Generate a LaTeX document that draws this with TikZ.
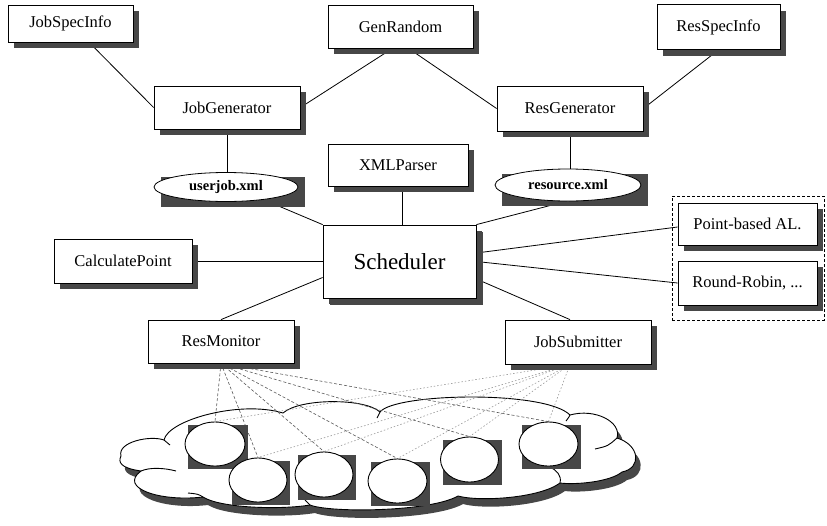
\documentclass[tikz,border=0pt]{standalone}
\usepackage{fontspec}
\setmainfont{Liberation Serif}
\usetikzlibrary{shapes.geometric,shadows,calc,fit}
\pgfdeclarelayer{cloudlayer}
\pgfdeclarelayer{connlayer}
\pgfdeclarelayer{background}
\pgfsetlayers{cloudlayer,connlayer,background,main}
\definecolor{shd}{gray}{0.28}
\tikzset{
  box/.style={draw, fill=white, line width=0.8pt, inner sep=0pt,
    font=\fontsize{16.5}{18}\selectfont,
    drop shadow={shadow xshift=6pt, shadow yshift=-6pt, fill=shd, opacity=1}},
  bigbox/.style={box, font=\fontsize{23}{26}\selectfont,
    drop shadow={shadow xshift=7pt, shadow yshift=-7pt, fill=shd, opacity=1}},
  xmlfile/.style={ellipse, draw, fill=white, line width=0.8pt, inner sep=0pt,
    font=\bfseries\fontsize{14.5}{16}\selectfont},
  res/.style={ellipse, draw, fill=white, line width=0.9pt, inner sep=0pt},
  conn/.style={line width=0.8pt},
  mondash/.style={black!65, line width=0.6pt, dash pattern=on 3pt off 2pt},
  subdash/.style={black!40, line width=0.6pt, dash pattern=on 1.5pt off 2pt},
  grpbox/.style={draw, line width=0.7pt, dash pattern=on 3pt off 2pt, inner sep=0pt},
}
\newcommand\cloudpath{(121,456)
  .. controls (117,442) and (150,435) .. (164,440)
  .. controls (168,420) and (240,400) .. (283,413)
  .. controls (300,398) and (365,398) .. (380,412)
  .. controls (395,393) and (545,390) .. (570,415)
  .. controls (595,408) and (622,422) .. (617,438)
  .. controls (640,445) and (642,468) .. (622,472)
  .. controls (610,482) and (575,485) .. (560,483)
  .. controls (540,498) and (480,502) .. (458,496)
  .. controls (430,512) and (330,513) .. (310,505)
  .. controls (280,510) and (220,508) .. (203,497)
  .. controls (160,502) and (118,488) .. (141,471)
  .. controls (120,468) and (118,462) .. (121,456) -- cycle}
\begin{document}
\begin{tikzpicture}[x=1pt,y=-1pt]
\useasboundingbox (0,0) rectangle (827,525);

% boxes
\node[box, minimum width=125pt, minimum height=37pt] (jsi) at (70.5,23.5) {JobSpecInfo};
\node[box, minimum width=145pt, minimum height=43pt] (gr) at (400.5,26.5) {GenRandom};
\node[box, minimum width=123pt, minimum height=45pt] (rsi) at (718.5,27) {ResSpecInfo};
\node[box, minimum width=146pt, minimum height=43pt] (jg) at (227,107.5) {JobGenerator};
\node[box, minimum width=146pt, minimum height=45pt] (rg) at (570,108.5) {ResGenerator};
\node[box, minimum width=140pt, minimum height=42pt] (xml) at (398,165) {XMLParser};
\node[bigbox, minimum width=153pt, minimum height=73pt] (sched) at (399.5,261.5) {Scheduler};
\node[box, minimum width=138pt, minimum height=44pt] (cp) at (123,261) {CalculatePoint};
\node[box, minimum width=146pt, minimum height=43pt] (rm) at (221,341.5) {ResMonitor};
\node[box, minimum width=146pt, minimum height=44pt] (js) at (578,342) {JobSubmitter};
\node[box, minimum width=139pt, minimum height=42pt] (pb) at (747.5,224) {Point-based AL.};
\node[box, minimum width=139pt, minimum height=44pt] (rr) at (747.5,283) {Round-Robin, ...};
\node[grpbox, fit={(672,196) (824,320)}] (alg) {};

% xml files
\node[xmlfile, minimum width=144pt, minimum height=29pt] (uj) at (226,187) {userjob.xml};
\node[xmlfile, minimum width=146pt, minimum height=32pt] (rs) at (568,185) {resource.xml};

% resources in the cloud
\node[res, minimum width=60pt, minimum height=44pt] (c1) at (215,444) {};
\node[res, minimum width=58pt, minimum height=44pt] (c2) at (258,480) {};
\node[res, minimum width=58pt, minimum height=45pt] (c3) at (324,474.5) {};
\node[res, minimum width=59pt, minimum height=44pt] (c4) at (397.5,481) {};
\node[res, minimum width=58pt, minimum height=45pt] (c5) at (469.5,459.5) {};
\node[res, minimum width=59pt, minimum height=44pt] (c6) at (548.5,444) {};

\begin{pgfonlayer}{background}
  \foreach \n in {uj,rs}
    \fill[shd] ($(\n.west |- \n.north)+(7pt,-5pt)$) rectangle ($(\n.east |- \n.south)+(7pt,-5pt)$);
  \foreach \n in {c1,c2,c3,c4,c5,c6}
    \fill[shd] ($(\n.west |- \n.north)+(3pt,-3pt)$) rectangle ($(\n.east |- \n.south)+(3pt,-3pt)$);
\end{pgfonlayer}

\begin{pgfonlayer}{cloudlayer}
  \fill[shd, xshift=5pt, yshift=-8pt] \cloudpath;
  \draw[fill=white, line width=0.9pt] \cloudpath;
  \draw[line width=0.9pt] (141,471) .. controls (150,467) and (165,468) .. (176,471);
  \draw[line width=0.9pt] (203,497) .. controls (198,494) .. (188,493);
  \draw[line width=0.9pt] (617,438) .. controls (608,446) .. (595,449);
  \draw[line width=0.9pt] (560,483) .. controls (562,475) and (556,470) .. (550,467);
  \draw[line width=0.9pt] (310,505) .. controls (307,503) .. (305,500);
  \draw[line width=0.9pt] (164,440) .. controls (167,442) .. (170,445);
  \draw[line width=0.9pt] (380,412) .. controls (379,414) .. (377,418);
  \draw[line width=0.9pt] (570,415) .. controls (569,417) .. (566,421);
\end{pgfonlayer}

\begin{pgfonlayer}{connlayer}
  \draw[conn] (jsi) -- (jg.west);
  \draw[conn] ([xshift=-8pt]gr.south) -- (jg.east);
  \draw[conn] ([xshift=8pt]gr.south) -- (rg.west);
  \draw[conn] (rsi.south) -- (rg.east);
  \draw[conn] (jg.south) -- (jg.south |- uj.north);
  \draw[conn] (rg.south) -- (rg.south |- rs.north);
  \draw[conn] ([xshift=4pt]xml.south) -- ([xshift=4pt]xml.south |- sched.north);
  \draw[conn] ([xshift=36pt,yshift=-12pt]uj.center) -- (sched.north west);
  \draw[conn] ([xshift=15pt,yshift=-12pt]rs.center) -- (sched.north east);
  \draw[conn] (cp.east) -- (sched.west |- cp.east);
  \draw[conn] (rm.north) -- ([yshift=-16pt]sched.west);
  \draw[conn] ([xshift=-8pt]js.north) -- ([yshift=-17.5pt]sched.east);
  \draw[conn] ([yshift=8.5pt]sched.east) -- ([yshift=-3pt]pb.west);
  \draw[conn] (sched.east) -- (rr.west);
  \foreach \c in {c1,c2,c3,c4,c5,c6} {
    \draw[mondash] (rm.south) -- (\c.north);
    \draw[subdash] ([xshift=-8pt]js.south) -- (\c.north);
  }
\end{pgfonlayer}
\end{tikzpicture}
\end{document}
